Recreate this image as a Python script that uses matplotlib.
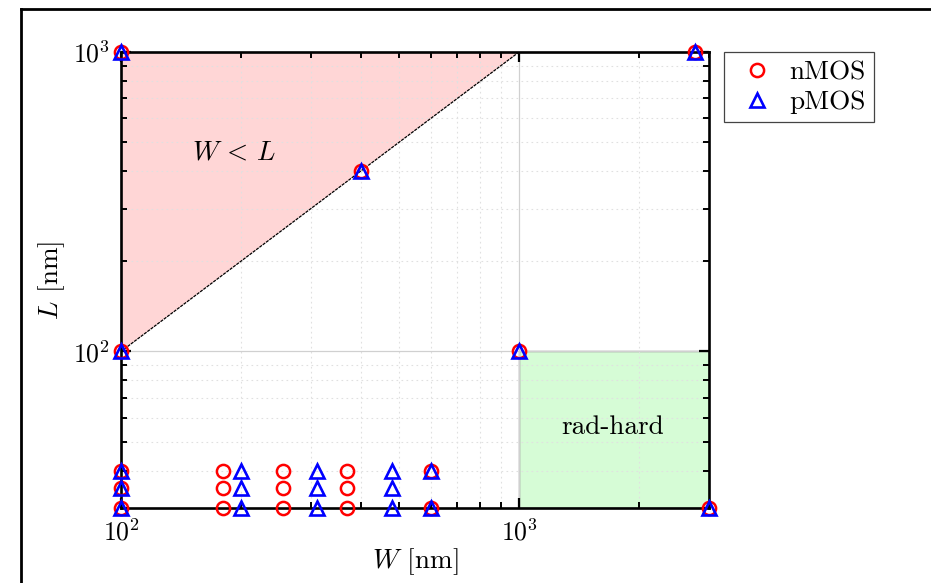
import matplotlib
matplotlib.use("Agg")
import matplotlib.pyplot as plt
from matplotlib.lines import Line2D
from matplotlib.patches import Polygon, Rectangle

plt.rcParams['font.family'] = ['cmr10', 'DejaVu Serif']
plt.rcParams['mathtext.fontset'] = 'cm'
plt.rcParams['axes.formatter.use_mathtext'] = True

# ---- data ----
nmos_W = [100, 100, 400, 1000, 2770, 3000,
          100, 100, 100, 180, 180, 180, 255, 255, 255, 370, 370, 370, 600, 600]
nmos_L = [1000, 100, 400, 100, 1000, 30,
          40, 35, 30, 40, 35, 30, 40, 35, 30, 40, 35, 30, 40, 30]
pmos_W = [100, 100, 400, 1000, 2770, 3000,
          100, 100, 100, 200, 200, 200, 310, 310, 310, 480, 480, 480, 600, 600]
pmos_L = [1000, 100, 400, 100, 1000, 30,
          40, 35, 30, 40, 35, 30, 40, 35, 30, 40, 35, 30, 40, 30]

x_limits = [100, 3000]
y_limits = [30, 1000]
diag_W = [100, 1000]
diag_L = [100, 1000]
radhard_W = [1000, 3000]
radhard_L = [30, 100]

W, H = 931, 583
FS = 19.6
fig = plt.figure(figsize=(W / 100, H / 100), dpi=100)
ax = fig.add_axes([121 / W, 1 - 508 / H, (709 - 121) / W, (508 - 52) / H])
ax.set_xscale('log')
ax.set_yscale('log')
ax.set_xlim(x_limits)
ax.set_ylim(y_limits)

# shaded regions
tri = Polygon([(diag_W[0], diag_L[0]), (diag_W[1], diag_L[1]), (diag_W[0], diag_L[1])],
              closed=True, facecolor='#ffd6d6', edgecolor='none', zorder=1)
ax.add_patch(tri)
ax.plot(diag_W, diag_L, color='black', lw=0.9, ls=(0, (2.5, 0.8)), zorder=1.8)
rect = Rectangle((radhard_W[0], radhard_L[0]), radhard_W[1] - radhard_W[0],
                 radhard_L[1] - radhard_L[0], facecolor='#d6fcd6',
                 edgecolor='#808080', lw=1.0, zorder=1)
ax.add_patch(rect)

# grid
ax.grid(True, which='major', color='#d0d0d0', lw=0.9, ls='-')
ax.grid(True, which='minor', color='#e0e0e0', lw=0.8, ls=(0, (1.5, 3)))

# data points
ax.plot(nmos_W, nmos_L, ls='none', marker='o', ms=9.5, mfc='none', mec='red',
        mew=1.8, clip_on=False, zorder=3, label='nMOS')
ax.plot(pmos_W, pmos_L, ls='none', marker='^', ms=10.5, mfc='none', mec='blue',
        mew=1.9, clip_on=False, zorder=4, label='pMOS')

# texts
ax.text(192, 460, r'$W\,<\,L$', fontsize=FS, ha='center', va='center')
ax.text(1717, 55.8, 'rad-hard', fontsize=FS, ha='center', va='center')

ax.set_xlabel(r'$W$ [nm]', fontsize=FS, labelpad=0)
ax.set_ylabel(r'$L$ [nm]', fontsize=FS, labelpad=4)

# ticks and spines
ax.tick_params(which='both', direction='in', top=True, right=True, labelsize=18.5)
ax.tick_params(which='major', length=7, width=1.6, pad=8)
ax.tick_params(which='minor', length=4, width=1.4)
for s in ax.spines.values():
    s.set_linewidth(1.9)
    s.set_zorder(2.6)

leg = fig.legend(loc='upper left', bbox_to_anchor=(724 / W, 1 - 52 / H),
                 fontsize=FS, frameon=True, fancybox=False, edgecolor='#444444',
                 framealpha=1, borderaxespad=0, handletextpad=0.3, borderpad=0.3,
                 labelspacing=0.22, handlelength=1.8)
leg.get_frame().set_linewidth(0.9)

# outer frame (top and left)
fig.add_artist(Line2D([21 / W, 1.0], [1 - 9 / H, 1 - 9 / H], color='black', lw=2.0,
                      transform=fig.transFigure))
fig.add_artist(Line2D([21 / W, 21 / W], [0, 1 - 9 / H], color='black', lw=2.0,
                      transform=fig.transFigure))

fig.savefig('out.png', dpi=100)
